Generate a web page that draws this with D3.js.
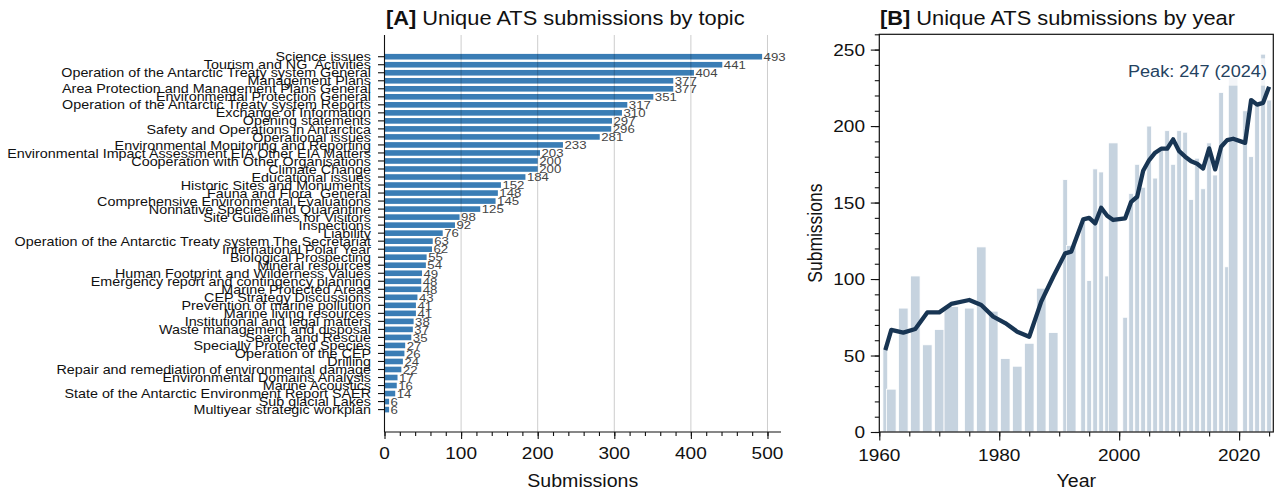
<!DOCTYPE html>
<html><head><meta charset="utf-8">
<script src="https://cdn.jsdelivr.net/npm/d3@7"></script>
<style>
html,body{margin:0;padding:0;background:#fff;}
svg text{white-space:pre;}
</style></head>
<body>
<svg id="chart" width="1280" height="490"></svg>
<script>
// ---------- DATA ----------
const topics = [
  "Science issues","Tourism and NG  Activities","Operation of the Antarctic Treaty system General",
  "Management Plans","Area Protection and Management Plans General","Environmental Protection General",
  "Operation of the Antarctic Treaty system Reports","Exchange of Information","Opening statements",
  "Safety and Operations in Antarctica","Operational issues","Environmental Monitoring and Reporting",
  "Environmental Impact Assessment EIA Other EIA Matters","Cooperation with Other Organisations",
  "Climate Change","Educational issues","Historic Sites and Monuments","Fauna and Flora  General",
  "Comprehensive Environmental Evaluations","Nonnative Species and Quarantine","Site Guidelines for Visitors",
  "Inspections","Liability","Operation of the Antarctic Treaty system The Secretariat","International Polar Year",
  "Biological Prospecting","Mineral resources","Human Footprint and Wilderness Values",
  "Emergency report and contingency planning","Marine Protected Areas","CEP Strategy Discussions",
  "Prevention of marine pollution","Marine living resources","Institutional and legal matters",
  "Waste management and disposal","Search and Rescue","Specially Protected Species","Operation of the CEP",
  "Drilling","Repair and remediation of environmental damage","Environmental Domains Analysis",
  "Marine Acoustics","State of the Antarctic Environment Report SAER","Sub glacial Lakes",
  "Multiyear strategic workplan"
];
const topicCounts = [493,441,404,377,377,351,317,310,297,296,281,233,203,200,200,184,152,148,145,125,
  98,92,76,63,62,55,54,49,48,48,43,41,41,38,37,35,27,26,24,22,17,16,14,6,6];
const topicTicks = [0,100,200,300,400,500];

const years = [1961,1962,1964,1966,1968,1970,1972,1975,1977,1979,1981,1983,1985,1987,1989,1991,1992,
  1994,1995,1996,1997,1998,1999,2001,2002,2003,2004,2005,2006,2007,2008,2009,2010,2011,2012,2013,2014,
  2015,2016,2017,2018,2019,2021,2022,2023,2024,2025];
const yearCounts = [54,28,81,102,57,67,82,81,121,79,48,43,58,94,65,165,122,
  140,99,172,170,102,189,75,156,175,160,200,166,186,197,175,197,196,152,179,159,
  189,168,222,108,232,210,180,214,247,217];
const trendValues = [53.6,66.7,65,67.3,78.2,78.2,83.7,86.3,83,75.4,71.2,65.6,62.3,85.2,101.5,116.8,117.9,
  139,140,136.4,146.6,141.4,138.6,139.7,150.5,153.8,170.8,177.8,182.6,185.2,185.2,191.3,183.6,180,177,175.4,172.3,
  185.4,171.7,186.5,190.8,191.7,189,217,214,215.2,225.7];
const yearTicks = [1960,1980,2000,2020];
const countTicks = [0,50,100,150,200,250];

// ---------- STYLE ----------
const FONT = "'Liberation Sans', Arial, Helvetica, sans-serif";
const SX = 1.12;  // horizontal text stretch seen in reference
const svg = d3.select("#chart");

function label(g, x, y, str, o = {}) {
  const t = g.append("text")
    .attr("transform", `translate(${x},${y}) scale(${SX},1)` + (o.rotate ? ` rotate(${o.rotate})` : ""))
    .attr("font-family", FONT)
    .attr("font-size", o.size || 16)
    .attr("fill", o.fill || "#111")
    .attr("text-anchor", o.anchor || "start");
  if (o.dy) t.attr("dy", o.dy);
  t.text(str);
  return t;
}
function title(x, y, tag, str) {
  const t = svg.append("text")
    .attr("transform", `translate(${x},${y}) scale(${SX},1)`)
    .attr("font-family", FONT).attr("font-size", 19.5).attr("fill", "#111");
  t.append("tspan").attr("font-weight", "bold").text(tag);
  t.append("tspan").text(" " + str);
}

// ---------- PANEL A ----------
{
  const L = 384.5, R = 781, T = 35, B = 432;
  const x = d3.scaleLinear().domain([0, 517.65]).range([L, R]);
  const y = d3.scaleBand().domain(topics).range([52.7, 413.6]).paddingInner(0.3).paddingOuter(0.15);
  const g = svg.append("g");

  g.selectAll("rect.bar").data(topics).join("rect")
    .attr("x", x(0)).attr("y", d => y(d))
    .attr("width", (d, i) => x(topicCounts[i]) - x(0))
    .attr("height", y.bandwidth())
    .attr("fill", "#3a7db5");

  // grid on top
  g.selectAll("line.grid").data(topicTicks.slice(1)).join("line")
    .attr("x1", d => x(d)).attr("x2", d => x(d)).attr("y1", T).attr("y2", B)
    .attr("stroke", "rgba(0,0,0,0.2)").attr("stroke-width", 1);

  // value labels
  topics.forEach((d, i) => {
    label(g, x(topicCounts[i]) + 1.5, y(d) + y.bandwidth() / 2, String(topicCounts[i]),
      { size: 11.8, fill: "#444", dy: "0.36em" });
  });

  // axes
  const ax = g.append("g").attr("transform", `translate(0,${B})`)
    .call(d3.axisBottom(x).tickValues(topicTicks).tickSize(7).tickFormat(""));
  g.append("g").attr("transform", `translate(0,${B})`)
    .call(d3.axisBottom(x).tickValues(d3.range(0, 520, 20)).tickSize(4).tickFormat(""))
    .select(".domain").remove();
  const ay = g.append("g").attr("transform", `translate(${L},0)`)
    .call(d3.axisLeft(y).tickSize(6.5).tickFormat("").tickSizeOuter(0));
  ay.select(".domain").attr("d", `M0,${T}V${B}`);
  ax.select(".domain").attr("d", `M${L},0H${R}`);
  g.selectAll(".domain, .tick line").attr("stroke", "#111").attr("stroke-width", 1.1);

  topics.forEach(d => label(g, 371, y(d) + y.bandwidth() / 2, d, { size: 12.8, anchor: "end", dy: "0.36em" }));
  topicTicks.forEach(v => label(g, x(v), 459, String(v), { size: 17, anchor: "middle" }));
  label(g, (L + R) / 2, 487, "Submissions", { size: 17.5, anchor: "middle" });
  title(386, 25, "[A]", "Unique ATS submissions by topic");
}

// ---------- PANEL B ----------
{
  const L = 879.3, R = 1273.3, T = 34.3, B = 432;
  const x = d3.scaleLinear().domain([1960, 2025.7]).range([L, R]);
  const y = d3.scaleLinear().domain([0, 260]).range([B, T]);
  const g = svg.append("g");
  const clip = svg.append("clipPath").attr("id", "clipB");
  clip.append("rect").attr("x", L).attr("y", T).attr("width", R - L).attr("height", B - T);
  const pg = g.append("g").attr("clip-path", "url(#clipB)");

  const gaps = years.map((yr, i) => (i < years.length - 1 ? years[i + 1] - yr : 1));
  pg.selectAll("rect.ybar").data(years).join("rect")
    .attr("x", (d, i) => x(d - 0.4 * gaps[i]))
    .attr("width", (d, i) => x(d + 0.4 * gaps[i]) - x(d - 0.4 * gaps[i]))
    .attr("y", (d, i) => y(yearCounts[i]))
    .attr("height", (d, i) => y(0) - y(yearCounts[i]))
    .attr("fill", "#c6d3df").attr("stroke", "#fff").attr("stroke-width", 0.8);

  const line = d3.line().x(d => x(d[0])).y(d => y(d[1]));
  pg.append("path").datum(years.map((yr, i) => [yr, trendValues[i]]))
    .attr("d", line).attr("fill", "none").attr("stroke", "#183553")
    .attr("stroke-width", 4.3).attr("stroke-linejoin", "round").attr("stroke-linecap", "butt");

  // peak annotation with translucent box
  const pi = yearCounts.indexOf(d3.max(yearCounts));
  pg.append("rect").attr("x", 1125).attr("y", 58.3).attr("width", 146).attr("height", 27.4)
    .attr("fill", "rgba(255,255,255,0.78)");
  label(g, 1267, 77, `Peak: ${yearCounts[pi]} (${years[pi]})`, { size: 16.2, anchor: "end", fill: "#24425f" });

  // axes
  g.append("g").attr("transform", `translate(0,${B})`)
    .call(d3.axisBottom(x).tickValues(yearTicks).tickSize(8.5).tickFormat("").tickSizeOuter(0));
  g.append("g").attr("transform", `translate(0,${B})`)
    .call(d3.axisBottom(x).tickValues(d3.range(1960, 2026, 5)).tickSize(4.5).tickFormat("").tickSizeOuter(0));
  g.append("g").attr("transform", `translate(${L},0)`)
    .call(d3.axisLeft(y).tickValues(countTicks).tickSize(8.5).tickFormat("").tickSizeOuter(0));
  g.append("g").attr("transform", `translate(${L},0)`)
    .call(d3.axisLeft(y).tickValues(d3.range(0, 261, 10)).tickSize(4.5).tickFormat("").tickSizeOuter(0));
  g.selectAll(".domain").remove();
  g.selectAll(".tick line").attr("stroke", "#111").attr("stroke-width", 1.1);
  g.append("rect").attr("x", L).attr("y", T).attr("width", R - L).attr("height", B - T)
    .attr("fill", "none").attr("stroke", "#111").attr("stroke-width", 1.2);

  countTicks.forEach(v => label(g, 865, y(v), String(v), { size: 17, anchor: "end", dy: "0.36em" }));
  yearTicks.forEach(v => label(g, x(v), 461, String(v), { size: 17, anchor: "middle" }));
  label(g, (L + R) / 2, 487, "Year", { size: 17.5, anchor: "middle" });
  label(g, 822, (T + B) / 2, "Submissions", { size: 17.5, anchor: "middle", rotate: -90 });
  title(880, 25, "[B]", "Unique ATS submissions by year");
}
</script>
</body></html>
